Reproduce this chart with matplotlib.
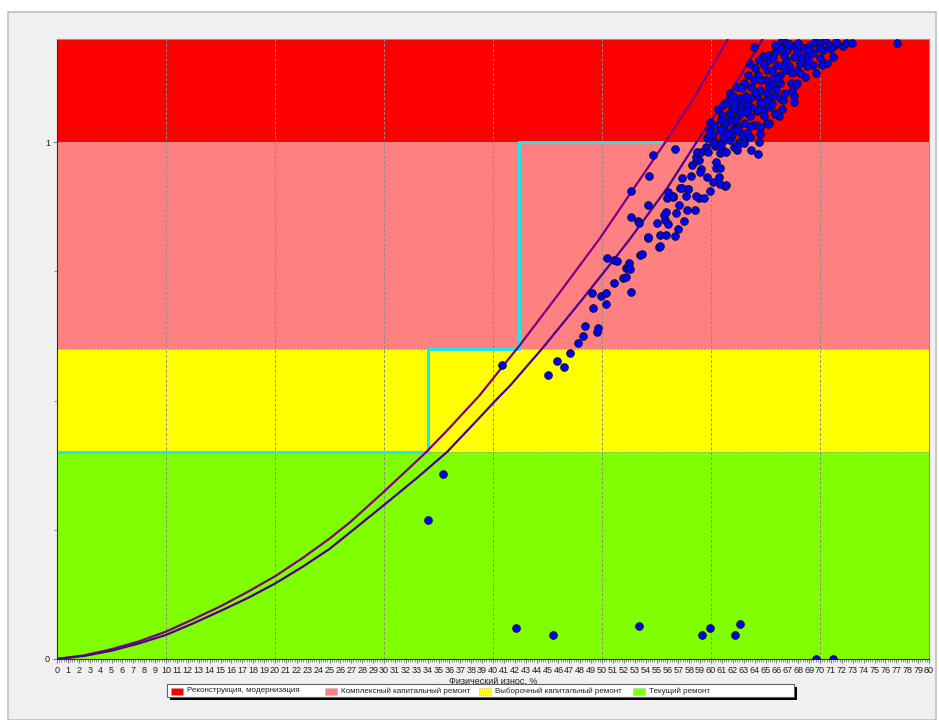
"""
Физический износ vs. индекс ремонта: зоны ремонта, пороговая ступенька,
две граничные кривые и облако объектов.
"""

import matplotlib.pyplot as plt
from matplotlib.patches import Rectangle
from matplotlib.ticker import MultipleLocator, FixedLocator

plt.rcParams['font.family'] = ['Liberation Sans', 'DejaVu Sans']

W, H = 939, 720

# Repair zones (y ranges) and their colours / legend labels
zone_labels = ['Реконструкция, модернизация', 'Комплексный капитальный ремонт',
               'Выборочный капитальный ремонт', 'Текущий ремонт']
zone_lo = [1.0, 0.6, 0.4, 0.0]
zone_hi = [1.2, 1.0, 0.6, 0.4]
zone_colors = ['#FF0000', '#FF8080', '#FFFF00', '#80FF00']

# Threshold step (cyan)
step_x = [0, 34, 42.4, 55.7]
step_y = [0.4, 0.6, 1.0, 1.0]

# Upper boundary curve
up_x = [0, 2.5, 5, 7.5, 10, 12.5, 15, 17.5, 20, 22.5, 25, 26.9, 30, 33.85, 36, 38.8,
        41.56, 42.3, 46, 49.8, 52.5, 55.8, 58.4, 61.6]
up_y = [0, 0.007, 0.019, 0.034, 0.053, 0.077, 0.102, 0.130, 0.160, 0.195, 0.233, 0.265,
        0.324, 0.40, 0.447, 0.511, 0.584, 0.603, 0.706, 0.814, 0.898, 1.0, 1.085, 1.202]

# Lower boundary curve
lo_x = [0, 2.5, 5, 7.5, 10, 12.5, 15, 17.5, 20, 22.5, 25, 27.3, 30, 33, 35.75, 38,
        40.4, 41.56, 44.6, 48, 51.2, 52.6, 56, 59.0, 61.4, 64.8]
lo_y = [0, 0.006, 0.016, 0.030, 0.0466, 0.069, 0.093, 0.118, 0.146, 0.178, 0.213, 0.252,
        0.298, 0.350, 0.40, 0.450, 0.504, 0.529, 0.603, 0.691, 0.776, 0.814, 0.912, 1.011,
        1.085, 1.202]

# Objects (x = wear %, y = index)
pts = [
    (34.0, 0.269), (35.4, 0.359), (40.8, 0.569), (42.1, 0.060), (45.5, 0.047), (53.4, 0.063),
    (59.2, 0.047), (59.9, 0.060), (62.2, 0.047), (62.7, 0.068), (69.6, 0.0), (71.2, 0.0), (77.1, 1.193),
    (45.0, 0.550), (45.9, 0.577), (46.5, 0.565), (47.1, 0.592), (47.8, 0.612), (48.3, 0.625),
    (48.4, 0.644), (49.5, 0.632), (49.6, 0.641), (49.2, 0.679), (50.4, 0.687), (49.1, 0.709),
    (49.9, 0.703), (50.4, 0.709), (51.1, 0.728), (50.5, 0.776), (51.1, 0.773), (51.4, 0.771),
    (51.9, 0.737), (52.2, 0.740), (52.7, 0.710), (52.2, 0.757), (52.4, 0.760), (52.5, 0.766),
    (52.6, 0.755), (53.5, 0.781), (53.7, 0.783), (54.2, 0.814), (55.2, 0.797),
    (56.7, 0.988), (54.7, 0.975), (54.3, 0.935), (52.7, 0.906), (54.2, 0.878), (52.7, 0.856),
    (53.3, 0.847), (53.4, 0.843), (54.2, 0.817), (55.3, 0.799), (55.3, 0.820), (55.9, 0.820),
    (56.7, 0.819), (55.0, 0.843), (55.8, 0.850), (56.1, 0.841), (57.0, 0.832), (57.5, 0.847),
    (55.7, 0.859), (55.9, 0.865), (56.8, 0.864), (57.1, 0.878), (57.8, 0.869), (58.5, 0.869),
    (56.0, 0.893), (56.5, 0.895), (57.7, 0.896), (58.9, 0.893), (59.4, 0.893), (57.2, 0.912),
    (57.9, 0.909), (57.3, 0.930), (58.2, 0.935), (59.6, 0.933), (58.3, 0.956), (59.1, 0.948),
    (59.9, 0.906), (60.2, 0.924), (60.8, 0.920), (61.3, 0.916), (60.5, 0.951), (60.8, 0.950),
    (58.6, 0.964), (58.9, 0.966), (58.6, 0.972), (58.7, 0.981), (59.1, 0.982), (59.5, 0.990),
    (59.7, 0.982), (60.4, 0.992), (60.5, 0.962), (60.8, 0.979), (61.0, 0.988), (61.4, 0.982),
    (62.1, 0.990), (62.4, 0.985), (59.6, 1.009), (59.9, 1.024), (60.2, 1.014), (60.4, 1.001),
    (61.1, 1.003), (61.7, 1.004), (62.6, 1.001), (63.0, 1.008), (63.7, 0.985), (64.3, 0.977),
    (64.4, 1.001), (59.9, 1.040), (60.6, 1.065), (61.0, 1.053), (61.1, 1.030), (61.3, 1.021),
    (61.9, 1.014), (62.0, 1.024), (61.4, 1.037), (61.7, 1.047), (62.2, 1.039), (62.5, 1.027),
    (62.8, 1.017), (63.3, 1.014), (63.9, 1.034), (63.3, 1.056), (62.6, 1.060), (61.9, 1.066),
    (61.3, 1.076), (61.6, 1.080), (62.4, 1.072), (62.9, 1.076), (63.7, 1.069), (64.2, 1.060),
    (64.7, 1.079), (65.1, 1.072), (65.3, 1.037), (66.0, 1.056),
    (63.9, 1.184), (63.6, 1.152), (64.0, 1.144), (62.4, 1.108), (63.0, 1.115), (62.8, 1.105),
    (60.8, 1.024), (61.7, 1.056), (62.1, 1.066), (61.9, 1.040), (62.5, 1.050), (62.8, 1.063),
    (63.3, 1.072), (63.6, 1.085), (64.2, 1.089), (64.5, 1.102), (65.0, 1.095), (65.3, 1.108),
    (65.7, 1.115), (66.0, 1.102), (66.3, 1.115), (66.3, 1.085), (66.6, 1.082), (67.3, 1.115),
    (67.7, 1.111), (67.6, 1.089), (67.6, 1.079), (66.2, 1.050), (65.1, 1.037), (64.5, 1.017),
    (63.0, 1.004), (63.3, 1.019), (63.6, 1.031), (64.2, 1.034), (64.8, 1.060), (65.4, 1.069),
    (64.5, 1.076), (64.2, 1.063), (65.1, 1.082), (65.7, 1.089), (65.0, 1.121), (65.1, 1.140),
    (65.3, 1.160), (65.3, 1.170), (65.7, 1.166), (66.0, 1.176), (65.9, 1.189), (66.5, 1.199),
    (66.9, 1.193), (67.6, 1.186), (68.0, 1.192), (68.5, 1.183), (69.1, 1.189), (69.5, 1.195),
    (70.0, 1.192), (70.5, 1.199), (70.8, 1.189), (71.4, 1.189), (71.5, 1.195), (72.1, 1.186),
    (72.4, 1.192), (72.9, 1.192), (71.2, 1.166), (70.6, 1.153), (69.6, 1.135), (68.6, 1.126),
    (67.9, 1.115), (68.8, 1.147), (68.2, 1.153), (70.0, 1.163), (69.4, 1.173), (68.8, 1.170),
    (67.6, 1.166), (66.9, 1.160), (66.5, 1.147), (66.9, 1.140), (67.4, 1.134), (66.3, 1.131),
    (67.2, 1.147), (67.9, 1.140), (68.2, 1.134), (69.4, 1.150), (69.9, 1.183), (67.9, 1.176),
    (67.0, 1.179), (66.3, 1.183), (63.7, 1.108), (64.0, 1.098), (62.7, 1.085), (62.2, 1.079),
    (61.1, 1.072), (61.7, 1.095),
    (59.8, 1.014), (60.2, 0.998), (60.8, 0.995), (61.1, 1.011), (61.6, 1.017), (62.4, 1.024),
    (63.0, 1.037), (63.6, 1.050), (62.7, 1.056), (63.3, 1.060), (62.2, 1.043), (62.4, 0.992),
    (63.0, 0.998), (63.6, 1.011), (64.5, 1.030), (65.2, 1.036), (65.9, 1.054),
    (56.1, 0.903), (56.5, 0.897), (57.3, 0.911), (57.9, 0.910), (59.0, 0.943), (60.7, 0.933),
    (61.4, 0.917), (58.6, 0.896),
    (64.6, 1.120), (64.3, 1.130), (64.8, 1.168), (64.4, 1.160), (65.6, 1.140), (66.1, 1.150),
    (65.8, 1.128), (64.9, 1.150), (66.7, 1.170), (67.2, 1.190), (68.3, 1.165), (68.9, 1.160),
    (67.4, 1.100), (66.8, 1.095), (63.2, 1.090), (63.9, 1.120), (63.4, 1.130), (62.0, 1.090),
    (60.9, 1.044), (60.3, 1.034), (65.6, 1.075), (66.5, 1.065), (64.9, 1.050), (66.1, 1.125),
    (69.0, 1.180), (70.3, 1.178), (71.0, 1.180), (70.2, 1.150),
]
pts_x = [p[0] for p in pts]
pts_y = [p[1] for p in pts]


def fx(px):
    return px / W


def fy(py):
    return 1 - py / H


fig = plt.figure(figsize=(W / 100, H / 100), dpi=100)
fig.patch.set_facecolor('white')

# grey panel behind the chart
fig.add_artist(Rectangle((fx(8), fy(720)), fx(928), 708 / H, transform=fig.transFigure,
                         facecolor='#F0F0F0', edgecolor='#C0C0C0', lw=1.2, zorder=-10))

ax = fig.add_axes([fx(57), fy(659), fx(872), 620 / H])

for lo, hi, c in zip(zone_lo, zone_hi, zone_colors):
    ax.axhspan(lo, hi, facecolor=c, edgecolor='none', zorder=0)
for lo in zone_lo[:-1]:
    ax.axhline(lo, color='#999999', lw=0.6, ls=(0, (2, 2)), zorder=1)
for gx in range(10, 80, 10):
    ax.axvline(gx, color='#8C8C8C', lw=0.7, ls=(0, (3, 2)), zorder=1)

ax.plot(step_x, step_y, drawstyle='steps-post', color='#1EE8E8', lw=2.2, zorder=2)
ax.plot(up_x, up_y, color='#800080', lw=1.6, zorder=3)
ax.plot(lo_x, lo_y, color='#4B0090', lw=1.6, zorder=3)
ax.scatter(pts_x, pts_y, s=30, color='#0000FF', edgecolors='#101030', linewidths=0.7, zorder=4)

ax.set_xlim(0, 80)
ax.set_ylim(0, 1.2)
ax.xaxis.set_major_locator(MultipleLocator(1))
ax.xaxis.set_minor_locator(MultipleLocator(0.2))
ax.yaxis.set_major_locator(FixedLocator([0, 1]))
ax.yaxis.set_minor_locator(FixedLocator([0.25, 0.5, 0.75]))
ax.tick_params(axis='both', which='major', labelsize=6.5, length=3, width=0.8,
               color='#808080', labelcolor='#202020', pad=2)
ax.tick_params(axis='both', which='minor', length=2, width=0.6, color='#808080')
ax.set_xlabel('Физический износ, %', fontsize=6.5, color='#202020', labelpad=1)

for side in ['top', 'right']:
    ax.spines[side].set_color('#909090')
for side in ['left', 'bottom']:
    ax.spines[side].set_color('#303030')

# legend with equal-width columns, drawn in figure pixels
fig.add_artist(Rectangle((fx(170), fy(700)), fx(627), 13 / H, transform=fig.transFigure,
                         facecolor='black', edgecolor='none', zorder=5))
fig.add_artist(Rectangle((fx(167), fy(697)), fx(627), 13 / H, transform=fig.transFigure,
                         facecolor='white', edgecolor='#606060', lw=0.8, zorder=6))
for i, (lab, c) in enumerate(zip(zone_labels, zone_colors)):
    x0 = 171 + 154 * i
    fig.add_artist(Rectangle((fx(x0), fy(694.5)), fx(12), 6.5 / H, transform=fig.transFigure,
                             facecolor=c, edgecolor='#A0A0A0', lw=0.5, ls=':', zorder=7))
    fig.text(fx(x0 + 16), fy(691), lab, fontsize=5.8, color='#202020',
             ha='left', va='center', zorder=8)

fig.savefig('out.png', dpi=100)
